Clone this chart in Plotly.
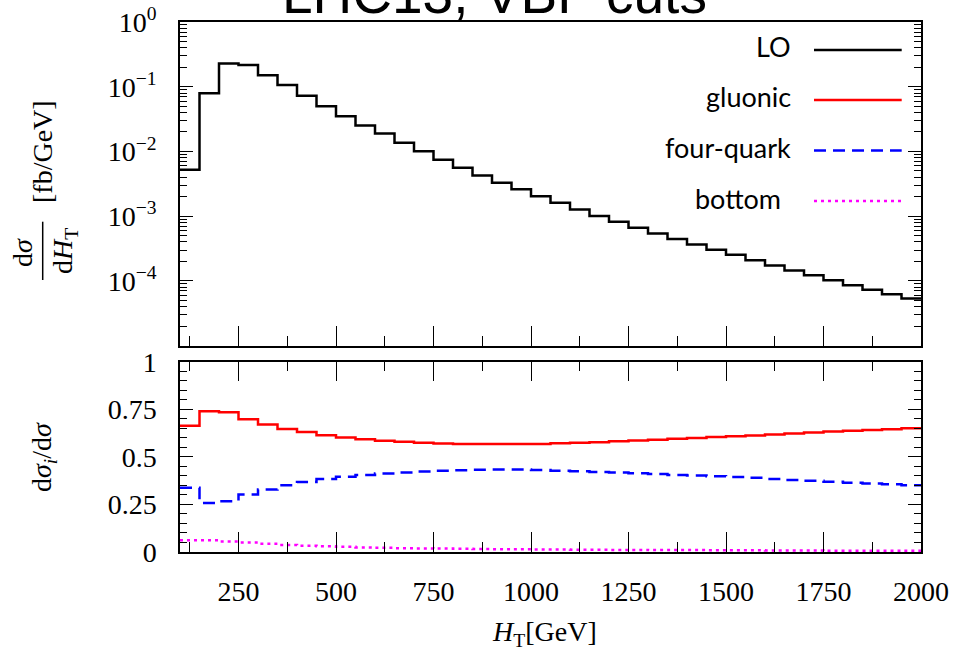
import plotly.graph_objects as go

# bin edges of H_T [GeV]
ht_edges = [100, 150, 200, 250, 300, 350, 400, 450, 500, 550, 600, 650, 700, 750,
            800, 850, 900, 950, 1000, 1050, 1100, 1150, 1200, 1250, 1300, 1350,
            1400, 1450, 1500, 1550, 1600, 1650, 1700, 1750, 1800, 1850, 1900,
            1950, 2000]

lo_vals = [5.2e-3, 7.9e-2, 0.229, 0.216, 0.151, 0.106, 0.0728, 0.0499, 0.035,
           0.0251, 0.0190, 0.0136, 0.0101, 0.00745, 0.00562, 0.00427, 0.00330,
           0.00260, 0.00203, 0.00161, 0.00127, 0.00101, 8.2e-4, 6.64e-4,
           5.42e-4, 4.43e-4, 3.67e-4, 3.04e-4, 2.55e-4, 2.08e-4, 1.74e-4,
           1.45e-4, 1.22e-4, 1.03e-4, 8.6e-5, 7.3e-5, 6.24e-5, 5.36e-5]

gluonic_vals = [0.663, 0.740, 0.734, 0.698, 0.670, 0.646, 0.630, 0.614, 0.602,
                0.592, 0.584, 0.579, 0.574, 0.570, 0.568, 0.567, 0.567, 0.567,
                0.568, 0.571, 0.574, 0.577, 0.582, 0.586, 0.590, 0.595, 0.599,
                0.604, 0.608, 0.612, 0.618, 0.623, 0.628, 0.633, 0.637, 0.641,
                0.645, 0.650]

fourquark_vals = [0.337, 0.258, 0.267, 0.302, 0.328, 0.351, 0.368, 0.383, 0.395,
                  0.404, 0.413, 0.418, 0.423, 0.427, 0.430, 0.432, 0.433, 0.433,
                  0.431, 0.427, 0.424, 0.421, 0.418, 0.414, 0.410, 0.405, 0.402,
                  0.398, 0.394, 0.390, 0.384, 0.379, 0.374, 0.369, 0.364, 0.360,
                  0.356, 0.351]

bottom_vals = [0.062, 0.062, 0.055, 0.050, 0.043, 0.037, 0.033, 0.030, 0.027,
               0.024, 0.022, 0.020, 0.019, 0.018, 0.017, 0.016, 0.015, 0.014,
               0.013, 0.013, 0.012, 0.012, 0.011, 0.011, 0.010, 0.010, 0.010,
               0.009, 0.009, 0.009, 0.008, 0.008, 0.008, 0.007, 0.007, 0.007,
               0.007, 0.006]

x_tickvals = [250, 500, 750, 1000, 1250, 1500, 1750, 2000]
x_ticktext = ["250", "500", "750", "1000", "1250", "1500", "1750", "2000"]
y1_tickvals = [1e-4, 1e-3, 1e-2, 1e-1, 1]
y1_ticktext = ["10<sup>−4</sup>", "10<sup>−3</sup>", "10<sup>−2</sup>",
               "10<sup>−1</sup>", "10<sup>0</sup>"]
y2_tickvals = [0, 0.25, 0.5, 0.75, 1]
y2_ticktext = ["0", "0.25", "0.5", "0.75", "1"]

W, H = 953, 652
ML, MR, MT, MB = 180, 32, 22, 100
PW, PH = W - ML - MR, H - MT - MB


def px_x(p):
    return (p - ML) / PW


def px_y(p):
    return (H - MB - p) / PH


def steps(vals):
    return vals + [vals[-1]]


SERIF = "Liberation Serif"
SANS = "Lato"

fig = go.Figure()
fig.add_trace(go.Scatter(x=ht_edges, y=steps(lo_vals), mode="lines",
                         line=dict(color="black", width=2.5, shape="hv"),
                         xaxis="x", yaxis="y", name="LO"))
fig.add_trace(go.Scatter(x=ht_edges, y=steps(gluonic_vals), mode="lines",
                         line=dict(color="#ff0000", width=2.5, shape="hv"),
                         xaxis="x2", yaxis="y2", name="gluonic"))
fig.add_trace(go.Scatter(x=ht_edges, y=steps(fourquark_vals), mode="lines",
                         line=dict(color="#0000ff", width=2.5, shape="hv",
                                   dash="12px,7px"),
                         xaxis="x2", yaxis="y2", name="four-quark"))
fig.add_trace(go.Scatter(x=ht_edges, y=steps(bottom_vals), mode="lines",
                         line=dict(color="#ff00ff", width=2.5, shape="hv",
                                   dash="3px,4px"),
                         xaxis="x2", yaxis="y2", name="bottom"))

minor_log = [k * 10.0 ** d for d in range(-5, 0) for k in range(2, 10)]

axis_common = dict(showline=True, linecolor="black", linewidth=1.5,
                   showgrid=False, zeroline=False, ticks="inside",
                   tickcolor="black", tickwidth=1.2, automargin=False,
                   tickfont=dict(family=SERIF, size=28, color="black"))

top_dom = [px_y(345.7), 1.0]
bot_dom = [0.0, px_y(361.7)]

fig.update_layout(
    template="none",
    width=W, height=H, autosize=False,
    margin=dict(l=ML, r=MR, t=MT, b=MB, autoexpand=False),
    paper_bgcolor="white", plot_bgcolor="white",
    showlegend=False,
    xaxis=dict(axis_common, domain=[0, 1], anchor="y", range=[100, 2000],
               tickvals=x_tickvals, showticklabels=False, ticklen=20,
               mirror=True,
               minor=dict(ticks="inside", dtick=125, tick0=0, ticklen=10,
                          tickcolor="black", tickwidth=1.2, showgrid=False)),
    yaxis=dict(axis_common, domain=top_dom, anchor="x", type="log",
               range=[-5, 0], tickvals=y1_tickvals, ticktext=y1_ticktext,
               ticklen=13, mirror="ticks", ticklabelstandoff=16,
               minor=dict(ticks="inside", tickmode="array", tickvals=minor_log,
                          ticklen=7, tickcolor="black", tickwidth=1.2,
                          showgrid=False)),
    xaxis2=dict(axis_common, domain=[0, 1], anchor="y2", range=[100, 2000],
                tickvals=x_tickvals, ticktext=x_ticktext, ticklen=20,
                mirror="ticks", ticklabelstandoff=14,
                minor=dict(ticks="inside", dtick=125, tick0=0, ticklen=10,
                           tickcolor="black", tickwidth=1.2, showgrid=False)),
    yaxis2=dict(axis_common, domain=bot_dom, anchor="x2", range=[0, 1],
                tickvals=y2_tickvals, ticktext=y2_ticktext, ticklen=13,
                mirror="ticks", ticklabelstandoff=16,
                minor=dict(ticks="inside", dtick=0.05, tick0=0, ticklen=7,
                           tickcolor="black", tickwidth=1.2, showgrid=False)),
)

ann = []
# title, partially cut at the top of the page
ann.append(dict(text="LHC13, VBF cuts", xref="paper", yref="paper",
                x=px_x(494), y=px_y(27), xanchor="center", yanchor="bottom",
                showarrow=False,
                font=dict(family="Liberation Sans", size=55, color="black")))
# y title of top panel (fraction)
ann.append(dict(text="d<i>σ</i>", xref="paper", yref="paper",
                x=px_x(22), y=px_y(253), xanchor="center", yanchor="middle",
                textangle=-90, showarrow=False,
                font=dict(family=SERIF, size=28, color="black")))
ann.append(dict(text="d<i>H</i><sub>T</sub>", xref="paper", yref="paper",
                x=px_x(64), y=px_y(251), xanchor="center", yanchor="middle",
                textangle=-90, showarrow=False,
                font=dict(family=SERIF, size=28, color="black")))
ann.append(dict(text="[fb/GeV]", xref="paper", yref="paper",
                x=px_x(43), y=px_y(152), xanchor="center", yanchor="middle",
                textangle=-90, showarrow=False,
                font=dict(family=SERIF, size=28, color="black")))
# y title bottom panel
ann.append(dict(text="d<i>σ<sub>i</sub></i>/d<i>σ</i>", xref="paper", yref="paper",
                x=px_x(43), y=px_y(457), xanchor="center", yanchor="middle",
                textangle=-90, showarrow=False,
                font=dict(family=SERIF, size=28, color="black")))
# x title
ann.append(dict(text="<i>H</i><sub>T</sub>[GeV]", xref="paper", yref="paper",
                x=px_x(544), y=px_y(633), xanchor="center", yanchor="middle",
                showarrow=False,
                font=dict(family=SERIF, size=28, color="black")))

# legend (text left, sample right)
legend_items = [("LO", "black", "solid", 792.7, 50),
                ("gluonic", "#ff0000", "solid", 792.7, 100),
                ("four-quark", "#0000ff", "12px,7px", 792.7, 150.5),
                ("bottom", "#ff00ff", "3px,4px", 783, 201)]
shapes = []
for name, col, dash, tx, ty in legend_items:
    ann.append(dict(text=name, xref="paper", yref="paper",
                    x=px_x(tx), y=px_y(ty - 3), xanchor="right", yanchor="middle",
                    showarrow=False,
                    font=dict(family=SANS, size=27, color="black")))
    shapes.append(dict(type="line", xref="paper", yref="paper",
                       x0=px_x(814), x1=px_x(901.7), y0=px_y(ty), y1=px_y(ty),
                       line=dict(color=col, width=2.5, dash=dash)))
# fraction bar of the y title
shapes.append(dict(type="line", xref="paper", yref="paper",
                   x0=px_x(42.7), x1=px_x(42.7), y0=px_y(221.7), y1=px_y(280),
                   line=dict(color="black", width=1.5)))

fig.update_layout(annotations=ann, shapes=shapes)

fig.write_html("out.html",
               config={"displayModeBar": False},
               post_script="document.body.style.margin='0';"
                           "document.body.style.overflow='hidden';")
